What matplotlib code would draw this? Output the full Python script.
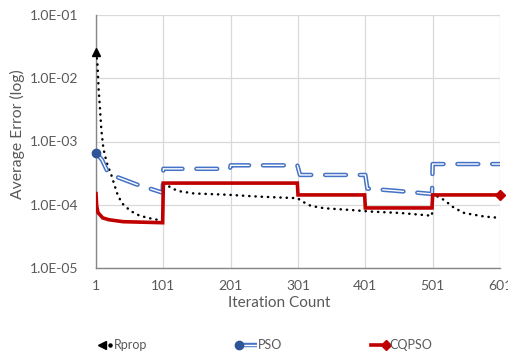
import matplotlib
matplotlib.use("Agg")
import matplotlib.pyplot as plt
import matplotlib.patheffects as pe
from matplotlib.lines import Line2D

plt.rcParams['font.family'] = ['Lato', 'DejaVu Sans']

# iteration / average error samples for each method
rprop_iter = [1, 3, 5, 7, 9, 12, 17, 24, 32, 39, 52, 66, 84, 100,
              101, 106, 116, 126, 146, 196, 245, 300, 310, 320, 340, 384,
              409, 454, 500, 501, 518, 533, 548, 578, 601]
rprop_err = [2.6e-2, 1.8e-2, 6.5e-3, 3.2e-3, 1.5e-3, 7.7e-4, 4.6e-4, 2.9e-4,
             1.55e-4, 1.07e-4, 8.0e-5, 6.7e-5, 6.0e-5, 5.6e-5,
             2.15e-4, 2.05e-4, 1.77e-4, 1.63e-4, 1.51e-4, 1.44e-4, 1.34e-4,
             1.27e-4, 1.09e-4, 9.6e-5, 8.8e-5, 8.2e-5, 7.8e-5, 7.4e-5, 6.7e-5,
             1.48e-4, 1.19e-4, 8.9e-5, 7.4e-5, 6.5e-5, 6.2e-5]

pso_iter = [1, 10, 19, 34, 61, 81, 100, 101, 200, 201, 300, 304, 401, 404,
            444, 500, 501, 601]
pso_err = [6.7e-4, 5.1e-4, 3.2e-4, 2.7e-4, 2.1e-4, 1.8e-4, 1.55e-4, 3.7e-4,
           3.7e-4, 4.2e-4, 4.2e-4, 2.96e-4, 2.96e-4, 1.8e-4, 1.67e-4,
           1.48e-4, 4.4e-4, 4.4e-4]

cqpso_iter = [1, 2, 4, 11, 20, 41, 70, 100, 101, 300, 301, 400, 401, 500,
              501, 601]
cqpso_err = [1.5e-4, 9.6e-5, 7.5e-5, 6.2e-5, 5.8e-5, 5.4e-5, 5.3e-5, 5.2e-5,
             2.2e-4, 2.2e-4, 1.43e-4, 1.43e-4, 8.9e-5, 8.9e-5, 1.43e-4,
             1.43e-4]

x_ticks = [1, 101, 201, 301, 401, 501, 601]
y_ticks = [1e-5, 1e-4, 1e-3, 1e-2, 1e-1]
y_labels = ['1.0E-05', '1.0E-04', '1.0E-03', '1.0E-02', '1.0E-01']

txt = '#595959'
pso_blue = '#4472C4'
pso_dark = '#2F5597'
red = '#C00000'

fig = plt.figure(figsize=(5.08, 3.56), dpi=100)
ax = fig.add_axes([96 / 508, 1 - 268 / 356, 404 / 508, 253 / 356])

# Rprop: black round dots, triangle on the first point
ax.plot(rprop_iter, rprop_err, color='black', lw=1.8,
        ls=(0, (0.1, 2.4)), dash_capstyle='round', zorder=3)
ax.plot(rprop_iter[:1], rprop_err[:1], marker='^', ms=6, color='black',
        ls='none', zorder=4, clip_on=False)

# PSO: double (outlined) long-dash line, dot at start
ax.plot(pso_iter, pso_err, color='white', lw=1.0, ls=(0, (15, 10)),
        dash_capstyle='round', zorder=3,
        path_effects=[pe.Stroke(linewidth=3.2, foreground=pso_blue),
                      pe.Normal()])
ax.plot(pso_iter[:1], pso_err[:1], marker='o', ms=6, color=pso_dark,
        ls='none', zorder=4, clip_on=False)

# CQPSO: thick solid red, diamond at end
ax.plot(cqpso_iter, cqpso_err, color=red, lw=2.6, zorder=3,
        solid_joinstyle='miter')
ax.plot(cqpso_iter[-1:], cqpso_err[-1:], marker='D', ms=5.5, color=red,
        ls='none', zorder=4, clip_on=False)

ax.set_yscale('log')
ax.set_xlim(1, 601)
ax.set_ylim(1e-5, 1e-1)
ax.set_xticks(x_ticks)
ax.set_xticklabels([str(v) for v in x_ticks])
ax.set_yticks(y_ticks)
ax.set_yticklabels(y_labels)
ax.minorticks_off()
ax.tick_params(length=0, labelsize=10, colors=txt)
ax.tick_params(axis='x', pad=9)
ax.tick_params(axis='y', pad=13)
ax.grid(True, color='#D9D9D9', lw=0.9)
ax.set_axisbelow(True)
for s in ['top', 'right']:
    ax.spines[s].set_visible(False)
for s in ['left', 'bottom']:
    ax.spines[s].set_color('#868686')
    ax.spines[s].set_linewidth(1.0)

fig.text(279 / 508, 1 - 303 / 356, 'Iteration Count', ha='center',
         va='center', fontsize=11, color=txt)
fig.text(17 / 508, 1 - 134 / 356, 'Average Error (log)', ha='center',
         va='center', rotation=90, fontsize=11.3, color=txt)

# legend row under the chart
ly = 1 - 345 / 356
def fx(px):
    return px / 508

fig.add_artist(Line2D([fx(102)], [ly], marker='<', ms=6, color='black',
                      ls='none', transform=fig.transFigure))
fig.add_artist(Line2D([fx(110)], [ly], marker='o', ms=2.2, color='black',
                      ls='none', transform=fig.transFigure))
fig.text(fx(114), ly, 'Rprop', ha='left', va='center', fontsize=9, color=txt)

fig.add_artist(Line2D([fx(240), fx(257)], [ly, ly], color='white', lw=1.0,
                      solid_capstyle='butt', transform=fig.transFigure,
                      path_effects=[pe.Stroke(linewidth=3.2,
                                              foreground=pso_blue),
                                    pe.Normal()]))
fig.add_artist(Line2D([fx(239)], [ly], marker='o', ms=6, color=pso_dark,
                      ls='none', transform=fig.transFigure))
fig.text(fx(258), ly, 'PSO', ha='left', va='center', fontsize=9, color=txt)

fig.add_artist(Line2D([fx(371), fx(386)], [ly, ly], color=red, lw=2.6,
                      transform=fig.transFigure))
fig.add_artist(Line2D([fx(386)], [ly], marker='D', ms=5.5, color=red,
                      ls='none', transform=fig.transFigure))
fig.text(fx(389), ly, 'CQPSO', ha='left', va='center', fontsize=9, color=txt)

fig.savefig('out.png', dpi=100)
